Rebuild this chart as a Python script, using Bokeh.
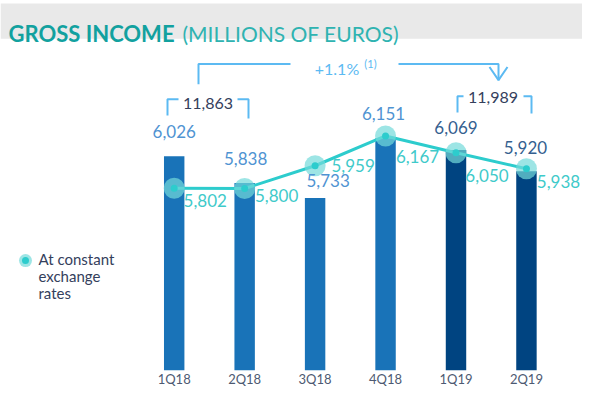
from bokeh.plotting import figure
from bokeh.models import ColumnDataSource, FixedTicker, Range1d, BoxAnnotation
from bokeh.core.properties import value
from bokeh.embed import file_html
from bokeh.resources import INLINE

# ---------------- data ----------------
categories = ["1Q18", "2Q18", "3Q18", "4Q18", "1Q19", "2Q19"]
gross_income = [6026, 5838, 5733, 6151, 6069, 5920]
constant_fx = [5802, 5800, 5959, 6167, 6050, 5938]
half_year_totals = [11863, 11989]
growth_text = "+1.1%"
growth_note = "(1)"
legend_text = ["At constant", "exchange", "rates"]
title_bold = "GROSS INCOME"
title_light = "(MILLIONS OF EUROS)"

# ---------------- layout ----------------
W, H = 582, 389
AXIS_H = 22
FRAME_H = H - AXIS_H
PX = 70.45            # px per category
SY = 0.142            # px per million
X0 = -173.7 / PX
X1 = X0 + W / PX
Y1 = 5733 + 196 / SY
Y0 = Y1 - FRAME_H / SY


def dx(px):
    return X0 + px / PX


def dy(py):
    return Y1 - py / SY


FONT = value("Lato")
C_2018 = "#1973b8"
C_2019 = "#004481"
C_LAB18 = "#4f93d2"
C_LAB19 = "#35608f"
C_LINE = "#2dcccd"
C_LLAB = "#3fcaca"
C_BRK = "#5cbaf2"
C_DARK = "#34405c"

xi = list(range(len(categories)))
bar_colors = [C_2018 if c.endswith("18") else C_2019 for c in categories]
lab_colors = [C_LAB18 if c.endswith("18") else C_LAB19 for c in categories]

# label offsets (screen px)
bar_xoff = [0, 1, 13, -2, 0, -1]
bar_yoff = [-25, -25, -18, -25, -23, -24]
line_xoff = [31, 32, 38, 32, 31, 32]
line_yoff = [12, 7, 0, 21, 23, 13]

src = ColumnDataSource(dict(
    x=xi, cat=categories, gi=gross_income, cfx=constant_fx,
    bcol=bar_colors, lcol=lab_colors,
    gi_txt=[f"{v:,}" for v in gross_income],
    cfx_txt=[f"{v:,}" for v in constant_fx],
    bxo=bar_xoff, byo=bar_yoff, lxo=line_xoff, lyo=line_yoff,
))

p = figure(width=W, height=H, output_backend="svg", toolbar_location=None,
           x_range=Range1d(X0, X1), y_range=Range1d(Y0, Y1),
           y_axis_location=None, min_border=0, outline_line_color=None,
           background_fill_color="white", border_fill_color="white")
p.grid.visible = False

# title band
p.add_layout(BoxAnnotation(top=dy(3), bottom=dy(38), fill_color="#e9e9e9",
                           fill_alpha=1, line_color=None, level="underlay"))
p.text(x=[dx(8)], y=[dy(33)], text=[title_bold], text_font=FONT,
       text_font_style="bold", text_font_size="22px", text_color="#12a19f",
       text_align="left", text_baseline="alphabetic")
p.text(x=[dx(182)], y=[dy(33)], text=[title_light], text_font=FONT,
       text_font_size="21px", text_color="#2fb3b1",
       text_align="left", text_baseline="alphabetic")

# bars
p.vbar(x="x", top="gi", bottom=Y0, width=0.29, fill_color="bcol",
       line_color=None, source=src)

# line + markers
p.line(x="x", y="cfx", line_color=C_LINE, line_width=3, source=src)
p.scatter(x="x", y="cfx", size=21, fill_color="#74dada", fill_alpha=0.7,
          line_color=None, source=src)
p.scatter(x="x", y="cfx", size=7, fill_color=C_LINE, line_color=None,
          source=src)

# value labels
p.text(x="x", y="gi", text="gi_txt", x_offset="bxo", y_offset="byo",
       text_font=FONT, text_font_size="17px", text_color="lcol",
       text_align="center", text_baseline="middle", source=src)
p.text(x="x", y="cfx", text="cfx_txt", x_offset="lxo", y_offset="lyo",
       text_font=FONT, text_font_size="17px", text_color=C_LLAB,
       text_align="center", text_baseline="middle", source=src)


# brackets
def seg(xs, ys):
    p.line(x=[dx(v) for v in xs], y=[dy(v) for v in ys], line_color=C_BRK,
           line_width=2)


seg([167, 167, 178], [114, 98, 98])
seg([237, 248, 248], [98, 98, 117])
seg([457, 457, 463], [111, 95, 95])
seg([523, 531, 531], [95, 95, 112])
p.text(x=[dx(207.5), dx(492.5)], y=[dy(102), dy(96)],
       text=[f"{v:,}" for v in half_year_totals], text_font=FONT,
       text_font_size="16px", text_color=C_DARK, text_align="center",
       text_baseline="middle")

seg([198, 198, 290], [83, 63, 63])
seg([398, 498, 498], [63, 63, 79])
seg([489, 498, 507], [66, 79, 66])
p.text(x=[dx(336.5)], y=[dy(67)], text=[growth_text], text_font=FONT,
       text_font_size="16px", text_color=C_BRK, text_align="center",
       text_baseline="middle")
p.text(x=[dx(370)], y=[dy(62)], text=[growth_note], text_font=FONT,
       text_font_size="11px", text_color=C_BRK, text_align="center",
       text_baseline="middle")

# legend
p.scatter(x=[dx(25)], y=[dy(258)], size=13, fill_color="#74dada",
          fill_alpha=0.7, line_color=None)
p.scatter(x=[dx(25)], y=[dy(258)], size=7, fill_color=C_LINE, line_color=None)
p.text(x=[dx(38)] * 3, y=[dy(256), dy(273), dy(290)], text=legend_text,
       text_font=FONT, text_font_size="15px", text_color=C_DARK,
       text_align="left", text_baseline="middle")

# x axis
ax = p.xaxis[0]
ax.ticker = FixedTicker(ticks=xi)
ax.major_label_overrides = {i: c for i, c in zip(xi, categories)}
ax.axis_line_color = None
ax.major_tick_line_color = None
ax.minor_tick_line_color = None
ax.major_tick_out = 0
ax.major_tick_in = 0
ax.minor_tick_out = 0
ax.major_label_standoff = 0
ax.major_label_text_font = "Lato"
ax.major_label_text_font_size = "13px"
ax.major_label_text_color = "#4d5a72"

open("out.html", "w").write(file_html(p, INLINE))
